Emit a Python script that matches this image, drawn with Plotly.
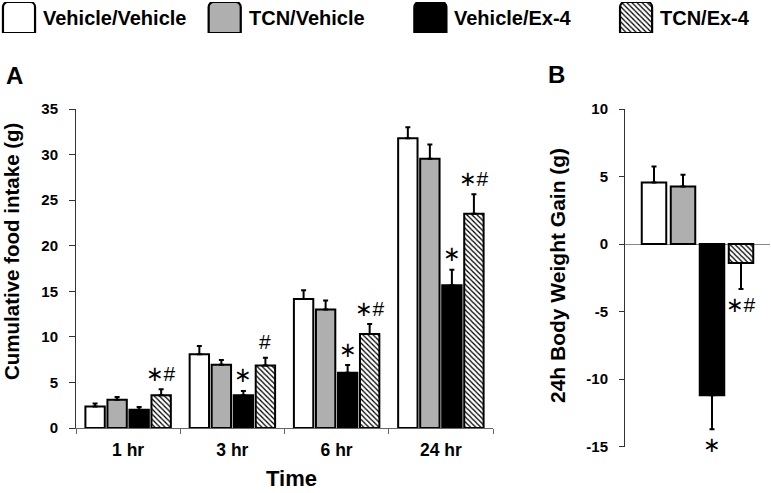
import plotly.graph_objects as go

# ---------------- data ----------------
groups = ["Vehicle/Vehicle", "TCN/Vehicle", "Vehicle/Ex-4", "TCN/Ex-4"]
times = ["1 hr", "3 hr", "6 hr", "24 hr"]

intake_veh_veh = [2.35, 8.1, 14.15, 31.8]
intake_tcn_veh = [3.1, 6.95, 13.0, 29.55]
intake_veh_ex4 = [2.0, 3.6, 6.05, 15.65]
intake_tcn_ex4 = [3.6, 6.85, 10.3, 23.5]

sem_veh_veh = [0.35, 0.9, 0.95, 1.2]
sem_tcn_veh = [0.3, 0.5, 1.0, 1.55]
sem_veh_ex4 = [0.3, 0.47, 0.85, 1.7]
sem_tcn_ex4 = [0.65, 0.87, 1.1, 2.15]

sig_veh_veh = ["", "", "", ""]
sig_tcn_veh = ["", "", "", ""]
sig_veh_ex4 = ["", "∗", "∗", "∗"]
sig_tcn_ex4 = ["∗#", "#", "∗#", "∗#"]

weight_gain = [4.55, 4.27, -11.2, -1.4]
weight_sem = [1.2, 0.87, 2.5, 1.93]
weight_sig = ["", "", "∗", "∗#"]

intake_ticks = [0, 5, 10, 15, 20, 25, 30, 35]
weight_ticks = [10, 5, 0, -5, -10, -15]
weight_tick_labels = ["10", "5", "0", "-5", "-10", "-15"]

# ---------------- styles ----------------
fills = ["white", "#AFAFAF", "black", "white"]
patterns = ["", "", "", "\\"]
FONT = "Liberation Sans, Arial, sans-serif"
W, H = 771, 493
BARGAP = 0.155
BARGROUPGAP = 0.12

intakes = [intake_veh_veh, intake_tcn_veh, intake_veh_ex4, intake_tcn_ex4]
sems = [sem_veh_veh, sem_tcn_veh, sem_veh_ex4, sem_tcn_ex4]
sigs = [sig_veh_veh, sig_tcn_veh, sig_veh_ex4, sig_tcn_ex4]


def marker_style(fc, pat, lw=2, radius=None):
    m = dict(color=fc, line=dict(color="black", width=lw))
    if pat:
        m["pattern"] = dict(shape=pat, fgcolor="black", bgcolor="white",
                            size=3.6, solidity=0.35)
    if radius:
        m["cornerradius"] = radius
    return m


fig = go.Figure()

# Panel A
for g, vals, err, fc, pat in zip(groups, intakes, sems, fills, patterns):
    fig.add_trace(go.Bar(
        x=times, y=vals, name=g, showlegend=False,
        marker=marker_style(fc, pat),
        error_y=dict(type="data", symmetric=False, array=err,
                     arrayminus=[0] * len(err), color="black",
                     thickness=2, width=2.5),
        xaxis="x", yaxis="y"))

# Panel B (one trace per group, sharing one offset group)
for g, v, e, fc, pat in zip(groups, weight_gain, weight_sem, fills, patterns):
    fig.add_trace(go.Bar(
        x=[g], y=[v], name=g, showlegend=False, width=0.845, offsetgroup="B",
        marker=marker_style(fc, pat),
        error_y=dict(type="data", symmetric=False,
                     array=[e if v >= 0 else 0], arrayminus=[e if v < 0 else 0],
                     color="black", thickness=2, width=2.5),
        xaxis="x2", yaxis="y2"))

# Legend swatches (hidden axis)
for g, fc, pat in zip(groups, fills, patterns):
    fig.add_trace(go.Bar(
        x=[g], y=[1], name=g, showlegend=False, width=0.156, offsetgroup="L",
        hoverinfo="skip", marker=marker_style(fc, pat, lw=2.2, radius=5),
        xaxis="x3", yaxis="y3"))

annotations = []
# legend text
for g in groups:
    annotations.append(dict(x=g, y=1 - 18 / H, xref="x3", yref="paper",
                            text="<b>%s</b>" % g, showarrow=False, xanchor="left",
                            yanchor="middle", xshift=22,
                            font=dict(family=FONT, size=20, color="black")))

sig_font = dict(family="Liberation Sans, DejaVu Sans", size=21, color="black")
# significance marks panel A
slot = (1 - BARGAP) / len(groups)
for i, (vals, err, sg) in enumerate(zip(intakes, sems, sigs)):
    for j, (v, e, s) in enumerate(zip(vals, err, sg)):
        if s:
            annotations.append(dict(x=j + (i - (len(groups) - 1) / 2) * slot, y=v + e,
                                    xref="x", yref="y", text=s, showarrow=False,
                                    xanchor="center", yanchor="middle", yshift=16,
                                    font=sig_font))
# significance marks panel B
for k, (v, e, s) in enumerate(zip(weight_gain, weight_sem, weight_sig)):
    if s:
        annotations.append(dict(x=k, y=v + e if v >= 0 else v - e,
                                xref="x2", yref="y2", text=s, showarrow=False,
                                xanchor="center", yanchor="middle",
                                yshift=16 if v >= 0 else -15, font=sig_font))

tf = dict(family=FONT, color="black")
common = dict(xref="paper", yref="paper", showarrow=False, xanchor="center", yanchor="middle")
annotations += [
    dict(common, x=11 / W, y=1 - 252 / H, text="<b>Cumulative food intake (g)</b>",
         textangle=-90, font=dict(tf, size=20.5)),
    dict(common, x=291 / W, y=1 - 478 / H, text="<b>Time</b>", font=dict(tf, size=22)),
    dict(common, x=557 / W, y=1 - 276 / H, text="<b>24h Body Weight Gain (g)</b>",
         textangle=-90, font=dict(tf, size=21)),
    dict(common, x=14 / W, y=1 - 76 / H, text="<b>A</b>", font=dict(tf, size=24)),
    dict(common, x=556 / W, y=1 - 74 / H, text="<b>B</b>", font=dict(tf, size=24)),
]

tickfont15 = dict(family=FONT, color="black", size=15, weight="bold")

fig.update_layout(
    template="none",
    width=W, height=H,
    margin=dict(l=0, r=0, t=0, b=0),
    paper_bgcolor="white", plot_bgcolor="white",
    barmode="group", bargap=BARGAP, bargroupgap=BARGROUPGAP,
    showlegend=False,
    annotations=annotations,
    xaxis=dict(domain=[76 / W, 493 / W], type="category", range=[-0.5, 3.5],
               tickson="boundaries", ticks="outside", ticklen=5, tickcolor="#666",
               showline=True, linecolor="#666", linewidth=1, showgrid=False, zeroline=False,
               tickfont=dict(family=FONT, color="black", size=17.5, weight="bold"),
               ticklabelstandoff=6, anchor="y", automargin=False),
    yaxis=dict(domain=[65 / H, 384 / H], range=[0, 35], tickvals=intake_ticks,
               ticks="outside", ticklen=6,
               tickcolor="#333", showline=True, linecolor="#333", linewidth=1,
               showgrid=False, zeroline=False, tickfont=tickfont15,
               ticklabelstandoff=8, anchor="x", automargin=False),
    xaxis2=dict(domain=[625 / W, 770 / W], type="category", range=[-1, 4], visible=False,
                anchor="y2"),
    yaxis2=dict(domain=[46.3 / H, 384 / H], range=[-15, 10],
                tickvals=weight_ticks, ticktext=weight_tick_labels,
                ticks="outside", ticklen=5,
                tickcolor="#333", showline=True, linecolor="#333", linewidth=1,
                showgrid=False, zeroline=True, zerolinecolor="#888", zerolinewidth=1,
                tickfont=tickfont15, ticklabelstandoff=8, anchor="x2", automargin=False),
    xaxis3=dict(domain=[0, 1], type="category", range=[-0.0924, 3.656], visible=False,
                anchor="y3"),
    yaxis3=dict(domain=[460 / H, 491 / H], range=[0, 1], visible=False, anchor="x3"),
)

fig.write_html("out.html", config={"displayModeBar": False},
               post_script="document.body.style.margin='0px';")
